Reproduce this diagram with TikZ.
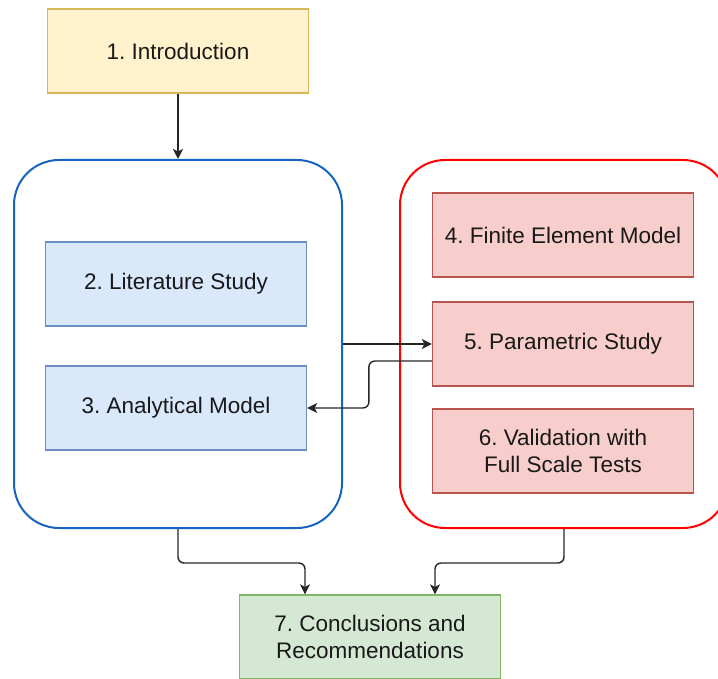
\documentclass[tikz,border=0pt]{standalone}
\usepackage{fontspec}
\setmainfont{Liberation Sans}
\usetikzlibrary{arrows.meta}
\frenchspacing
\definecolor{yelfill}{HTML}{FFF2CC}
\definecolor{yeldraw}{HTML}{D6B656}
\definecolor{bluefill}{HTML}{DAE8FC}
\definecolor{bluedraw}{HTML}{6C8EBF}
\definecolor{redfill}{HTML}{F8CECC}
\definecolor{reddraw}{HTML}{B85450}
\definecolor{grnfill}{HTML}{D5E8D4}
\definecolor{grndraw}{HTML}{82B366}
\definecolor{grpblue}{HTML}{1565C0}
\definecolor{grpred}{HTML}{FF0000}
\tikzset{
  chapter/.style={draw, line width=1.2pt, minimum width=261pt, minimum height=84pt,
    align=center, font=\fontsize{22.5}{27.5}\selectfont, text=black!90},
  group/.style={draw, line width=2pt, rounded corners=45pt, minimum width=328pt, minimum height=368pt},
  arr/.style={-{Stealth[length=10pt,width=10pt,inset=2.5pt]}, line width=1.4pt, black!85, rounded corners=6pt}
}
\begin{document}
\begin{tikzpicture}[x=1pt,y=-1pt]
\useasboundingbox (0,0) rectangle (718,679);
\node[chapter, fill=yelfill, draw=yeldraw] (intro) at (178,51) {1. Introduction};
\node[group, draw=grpblue] (left) at (178,344) {};
\node[group, draw=grpred] (right) at (564,344) {};
\node[chapter, fill=bluefill, draw=bluedraw] (lit) at (176,284) {2. Literature Study};
\node[chapter, fill=bluefill, draw=bluedraw] (anal) at (176,408) {3. Analytical Model};
\node[chapter, fill=redfill, draw=reddraw] (fem) at (563,235) {4. Finite Element Model};
\node[chapter, fill=redfill, draw=reddraw] (param) at (563,344) {5. Parametric Study};
\node[chapter, fill=redfill, draw=reddraw] (valid) at (563,451) {6. Validation with\\Full Scale Tests};
\node[chapter, fill=grnfill, draw=grndraw] (concl) at (370,637) {7. Conclusions and\\Recommendations};
% connectors
\draw[arr] (intro) -- (left);
\draw[arr] (left.east) -- (param.west);
\draw[arr] ([yshift=-17pt]param.west) -- ++(-63,0) |- (anal.east);
\draw[arr] (left.south) -- ++(0,34) -| ([xshift=-65pt]concl.north);
\draw[arr] (right.south) -- ++(0,34) -| ([xshift=65pt]concl.north);
\end{tikzpicture}
\end{document}
